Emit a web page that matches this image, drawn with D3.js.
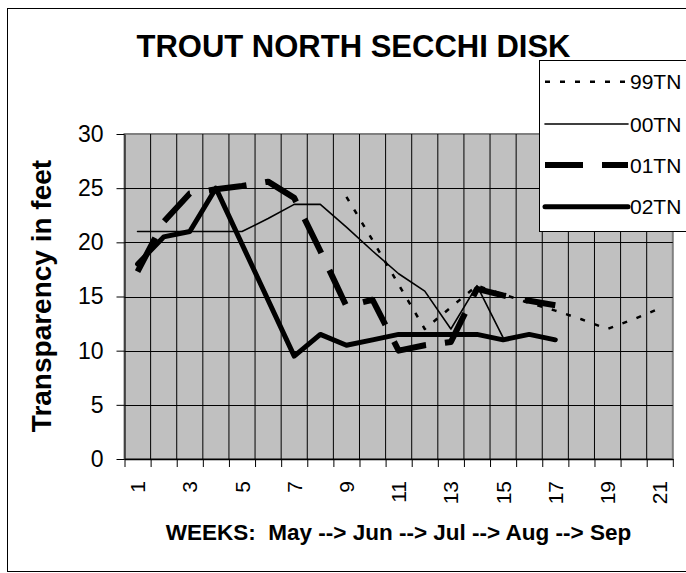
<!DOCTYPE html>
<html>
<head>
<meta charset="utf-8">
<script src="https://cdn.jsdelivr.net/npm/d3@7"></script>
<style>
  body { margin: 0; background: #fff; }
  text { font-family: "Liberation Sans", Arial, sans-serif; fill: #000; }
</style>
</head>
<body>
<div id="chart"></div>
<script>
var weeks = [1, 2, 3, 4, 5, 6, 7, 8, 9, 10, 11, 12, 13, 14, 15, 16, 17, 18, 19, 20, 21];
var yTicks = [0, 5, 10, 15, 20, 25, 30];
var seriesNames = ["99TN", "00TN", "01TN", "02TN"];

var tn99 = [null, null, null, null, null, null, null, null, 24.2, 20.2, 16.1, 12.0, 14.0, 16.0, 15.2, 14.4, 13.7, 12.9, 12.0, 12.9, 13.9];
var tn00 = [21, 21, 21, 21, 21, 22.2, 23.5, 23.5, 21.4, 19.2, 17.1, 15.5, 12.0, 16.0, 11.2, null, null, null, null, null, null];
var tn01 = [17.3, 21.9, 24.5, 24.9, 25.2, 25.6, 24.1, 19.2, 14.1, 14.7, 10.0, 10.5, 10.8, 15.7, 15.1, 14.6, 14.2, null, null, null, null];
var tn02 = [18.0, 20.5, 21.0, 25.0, null, null, 9.5, 11.5, 10.5, 11.0, 11.5, 11.5, 11.5, 11.5, 11.0, 11.5, 11.0, null, null, null, null];

var W = 686, H = 573;
var plot = { left: 124.5, right: 672.8, top: 134, bottom: 459 };

var svg = d3.select("#chart").append("svg")
  .attr("width", W).attr("height", H);

// outer frame
svg.append("rect").attr("x", 7.5).attr("y", 8.5).attr("width", 700).attr("height", 563)
  .attr("fill", "#fff").attr("stroke", "#000").attr("stroke-width", 1);

var x = d3.scaleBand().domain(weeks).range([plot.left, plot.right]).padding(0);
var xb = d3.scaleLinear().domain([0, weeks.length]).range([plot.left, plot.right]);
var y = d3.scaleLinear().domain([0, 30]).range([plot.bottom, plot.top]);

// plot area
svg.append("rect").attr("x", plot.left).attr("y", plot.top)
  .attr("width", plot.right - plot.left).attr("height", plot.bottom - plot.top)
  .attr("fill", "#c0c0c0").attr("stroke", "#808080").attr("stroke-width", 2);

// grid
svg.append("g").selectAll("line").data(d3.range(1, weeks.length)).enter()
  .append("line")
  .attr("x1", function (d) { return xb(d); }).attr("x2", function (d) { return xb(d); })
  .attr("y1", plot.top).attr("y2", plot.bottom)
  .attr("stroke", "#000").attr("stroke-width", 1);
svg.append("g").selectAll("line").data([5, 10, 15, 20, 25]).enter()
  .append("line")
  .attr("x1", plot.left).attr("x2", plot.right)
  .attr("y1", function (d) { return Math.round(y(d)) + 0.5; })
  .attr("y2", function (d) { return Math.round(y(d)) + 0.5; })
  .attr("stroke", "#000").attr("stroke-width", 1);

// axes
var yAxis = d3.axisLeft(y).tickValues(yTicks).tickSize(8).tickPadding(13).tickSizeOuter(0);
var gy = svg.append("g").attr("transform", "translate(" + plot.left + ",0)").call(yAxis);
gy.selectAll("text").style("font-size", "23px");
gy.select(".domain").attr("stroke", "#000");

var xAxis = d3.axisBottom(xb).tickValues(d3.range(0, weeks.length + 1)).tickFormat("").tickSize(8).tickSizeOuter(0);
var gx = svg.append("g").attr("transform", "translate(0," + plot.bottom + ")").call(xAxis);
gx.select(".domain").attr("stroke", "#000").attr("stroke-width", 1.5);

svg.append("g").selectAll("text").data(weeks.filter(function (w) { return w % 2 == 1; })).enter()
  .append("text")
  .attr("transform", function (d) { return "translate(" + (x(d) + x.bandwidth() / 2) + ",481) rotate(-90)"; })
  .attr("dy", "0.36em")
  .attr("text-anchor", "end")
  .style("font-size", "21px")
  .text(function (d) { return d; });

// titles
svg.append("text").attr("x", 353.5).attr("y", 57).attr("text-anchor", "middle")
  .style("font-size", "31px").style("font-weight", "bold")
  .text("TROUT NORTH SECCHI DISK");
svg.append("text").attr("transform", "translate(51,296) rotate(-90)").attr("text-anchor", "middle")
  .style("font-size", "28px").style("font-weight", "bold")
  .text("Transparency in feet");
svg.append("text").attr("x", 398.5).attr("y", 540).attr("text-anchor", "middle")
  .style("font-size", "22.5px").style("font-weight", "bold")
  .text("WEEKS:  May --> Jun --> Jul --> Aug --> Sep").attr("xml:space", "preserve").style("white-space", "pre");

// series
var styles = [
  { w: 2.5, dash: "5,10", cap: "butt" },
  { w: 1.6, dash: null, cap: "round" },
  { w: 6, dash: "38,19", cap: "butt" },
  { w: 5, dash: null, cap: "round" }
];
var allSeries = [tn99, tn00, tn01, tn02];

var line = d3.line()
  .x(function (d) { return x(d.week) + x.bandwidth() / 2; })
  .y(function (d) { return y(d.value); });

allSeries.forEach(function (vals, i) {
  var pts = weeks.map(function (w, j) { return { week: w, value: vals[j] }; })
    .filter(function (d) { return d.value != null; });
  svg.append("path").datum(pts).attr("d", line)
    .attr("fill", "none").attr("stroke", "#000")
    .attr("stroke-width", styles[i].w)
    .attr("stroke-dasharray", styles[i].dash)
    .attr("stroke-linecap", styles[i].cap)
    .attr("stroke-linejoin", "round");
});

// legend
var legend = svg.append("g");
legend.append("rect").attr("x", 539.5).attr("y", 60.5).attr("width", 160).attr("height", 171)
  .attr("fill", "#fff").attr("stroke", "#000").attr("stroke-width", 1);
var legY = [81.7, 124, 165, 206.7];
seriesNames.forEach(function (name, i) {
  legend.append("line").attr("x1", 545).attr("x2", 628).attr("y1", legY[i]).attr("y2", legY[i])
    .attr("stroke", "#000").attr("stroke-width", styles[i].w)
    .attr("stroke-dasharray", styles[i].dash)
    .attr("stroke-linecap", styles[i].cap);
  legend.append("text").attr("x", 630).attr("y", legY[i]).attr("dy", "0.36em")
    .style("font-size", "21px").text(name);
});
</script>
</body>
</html>
